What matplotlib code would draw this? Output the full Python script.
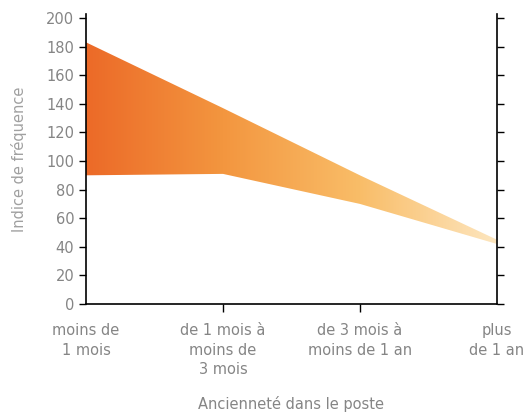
import numpy as np
import matplotlib.pyplot as plt
from matplotlib.colors import LinearSegmentedColormap

# data
categories = ['moins de\n1 mois', 'de 1 mois à\nmoins de\n3 mois',
              'de 3 mois à\nmoins de 1 an', 'plus\nde 1 an']
upper = [183, 137, 90, 45]
lower = [90, 91, 70, 42]
yticks = [0, 20, 40, 60, 80, 100, 120, 140, 160, 180, 200]

grey = '#858585'
plt.rcParams['font.family'] = ['DejaVu Sans']
plt.rcParams['font.size'] = 10.5

fig = plt.figure(figsize=(5.28, 4.17), dpi=100)
ax = fig.add_axes([0.163, 0.271, 0.778, 0.696])

x = np.arange(len(categories))
xs = np.linspace(0, len(categories) - 1, 600)
up = np.interp(xs, x, upper)
lo = np.interp(xs, x, lower)

cmap = LinearSegmentedColormap.from_list(
    'band', ['#ec6a28', '#f3963f', '#f9bd68', '#fde6bf'])
poly = ax.fill_between(xs, lo, up, color='none', lw=0)
grad = np.linspace(0, 1, 512).reshape(1, -1)
im = ax.imshow(grad, cmap=cmap, aspect='auto', extent=[0, 3, 0, 200],
               origin='lower', zorder=1)
im.set_clip_path(poly.get_paths()[0], transform=ax.transData)

ax.set_xlim(0, 3)
ax.set_ylim(0, 203)
ax.set_yticks(yticks)
ax.set_xticks(x)
ax.set_xticklabels(categories, color=grey, linespacing=1.35)
ax.tick_params(axis='y', colors='black', labelcolor=grey, length=5, width=1,
               right=True, direction='out')
ax.tick_params(axis='x', colors='black', labelcolor=grey, length=6, width=1,
               pad=8)
# end ticks sit on the side spines
xt = ax.xaxis.get_major_ticks()
xt[0].tick1line.set_visible(False)
xt[-1].tick1line.set_visible(False)
ax.spines['top'].set_visible(False)
for s in ('left', 'right', 'bottom'):
    ax.spines[s].set_linewidth(1.2)

ax.set_ylabel('Indice de fréquence', color='#a0a0a0', labelpad=14)
ax.set_xlabel('Ancienneté dans le poste', color=grey, labelpad=14)

fig.savefig('out.png', dpi=100)
